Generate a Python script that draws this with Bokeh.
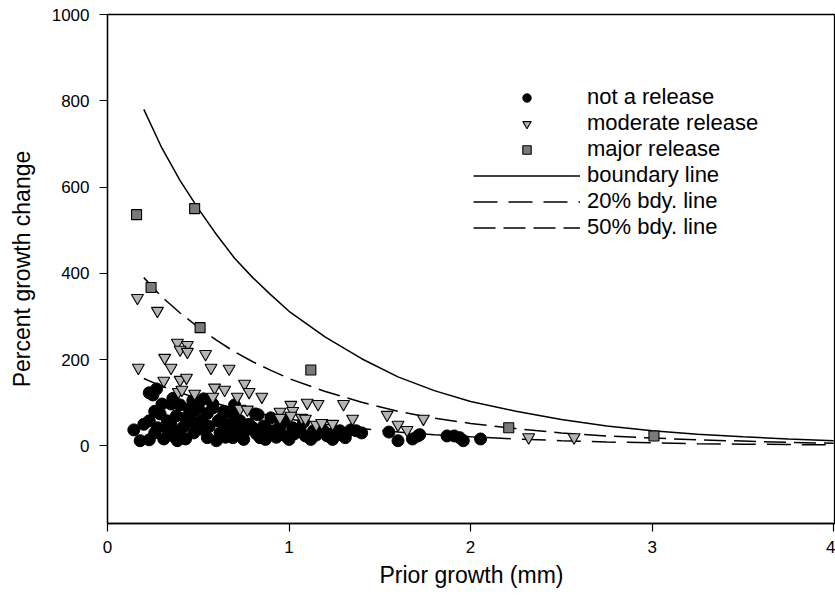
from bokeh.plotting import figure
from bokeh.models import Legend, LegendItem, FixedTicker, Range1d
from bokeh.embed import file_html
from bokeh.resources import INLINE

# ---- data ----
not_x = [0.145, 0.18, 0.23, 0.23, 0.23, 0.27, 0.25, 0.30, 0.35, 0.29, 0.33, 0.275, 0.33, 0.36, 0.40,
         0.46, 0.475, 0.43, 0.50, 0.53, 0.58, 0.43, 0.475, 0.51, 0.55, 0.61, 0.62, 0.31, 0.385,
         0.63, 0.66, 0.69, 0.73, 0.69, 0.76, 0.815, 0.80, 0.84, 0.90, 0.915, 0.96, 0.98, 1.02, 1.06,
         1.09, 1.135, 1.17, 1.21, 1.245, 1.28, 1.31, 0.86, 0.73,
         1.30, 1.34, 1.37, 1.40, 1.55, 1.60, 1.68, 1.71, 1.72, 1.87, 1.91, 1.94, 1.96, 2.055,
         0.45, 0.50, 0.58, 0.83, 0.97,
         0.20, 0.26, 0.35, 0.38, 0.42, 0.47, 0.52, 0.56, 0.60, 0.65, 0.68, 0.71, 0.75, 0.78, 0.82,
         0.87, 0.88, 0.93, 0.95, 1.00, 1.03, 1.08, 1.12, 1.15, 1.19, 1.24, 0.55, 0.64, 0.70, 0.40,
         0.26, 0.47, 0.36]
not_y = [37, 12, 14, 58, 123, 132, 118, 97, 97, 74, 58, 42, 39, 23, 35,
         88, 81, 65, 97, 109, 97, 16, 30, 39, 19, 58, 30, 16, 12,
         65, 42, 74, 58, 19, 35, 74, 42, 19, 65, 35, 58, 23, 42, 39,
         23, 35, 46, 23, 30, 35, 19, 46, 30,
         23, 37, 35, 30, 32, 12, 16, 23, 26, 23, 23, 19, 12, 16,
         86, 88, 88, 72, 58,
         50, 30, 50, 70, 45, 55, 60, 45, 12, 20, 50, 40, 15, 50, 28,
         15, 38, 20, 45, 15, 28, 55, 15, 25, 35, 15, 75, 80, 95, 95,
         80, 105, 110]

mod_x = [0.165, 0.275, 0.385, 0.44, 0.40, 0.44, 0.54, 0.315, 0.17, 0.35, 0.57, 0.67, 0.31, 0.40,
         0.435, 0.755, 0.39, 0.41, 0.48, 0.59, 0.645, 0.78, 0.715, 0.85, 0.58, 0.73, 0.77, 0.95,
         1.01, 1.02, 1.01, 0.95, 1.07, 1.10, 1.16, 1.30, 1.09, 1.15, 1.18, 1.24, 1.54, 1.74, 1.35,
         1.60, 1.65, 2.32, 2.57]
mod_y = [343, 313, 239, 234, 223, 218, 213, 204, 181, 181, 181, 179, 151, 153,
         158, 144, 125, 130, 121, 135, 130, 125, 114, 114, 114, 86, 84, 79,
         95, 81, 70, 65, 65, 100, 97, 97, 63, 49, 53, 51, 72, 63, 63,
         49, 37, 20, 20]

maj_x = [0.16, 0.48, 0.24, 0.51, 1.12, 2.21, 3.01]
maj_y = [536, 550, 367, 274, 176, 42, 23]

line_x = [0.2, 0.3, 0.4, 0.5, 0.6, 0.7, 0.8, 0.9, 1.0, 1.2, 1.4, 1.6, 1.8, 2.0, 2.25, 2.5,
          2.75, 3.0, 3.25, 3.5, 3.75, 4.0]
boundary_y = [780, 690, 615, 550, 490, 435, 390, 350, 312, 252, 202, 160, 128, 103, 80, 61,
              46, 35, 27, 21, 16, 12]
bdy50_y = [390, 345, 308, 275, 245, 218, 195, 175, 156, 126, 101, 80, 64, 52, 40, 30,
           23, 18, 14, 11, 8, 6]
bdy20_y = [156, 138, 123, 110, 98, 87, 78, 70, 62, 50, 40, 32, 26, 21, 16, 12,
           9, 7, 5, 4, 3, 2.4]

x_ticks = [0, 1, 2, 3, 4]
y_ticks = [0, 200, 400, 600, 800, 1000]

FONT = "Liberation Sans"

p = figure(width=835, height=598, output_backend="svg", toolbar_location=None,
           x_range=Range1d(0, 4.01), y_range=Range1d(-180, 1000),
           min_border_left=107, min_border_right=0, min_border_top=14, min_border_bottom=75)
p.grid.visible = False
p.background_fill_color = "white"
p.border_fill_color = "white"
p.outline_line_color = "black"
p.outline_line_width = 1.3

for ax in (p.xaxis[0], p.yaxis[0]):
    ax.axis_line_width = 1.3
    ax.axis_line_color = "black"
    ax.major_tick_line_color = "black"
    ax.major_tick_line_width = 1.2
    ax.major_tick_out = 8
    ax.major_tick_in = 0
    ax.minor_tick_line_color = None
    ax.major_label_text_font = FONT
    ax.major_label_text_font_size = "17px"
    ax.major_label_text_color = "black"
    ax.axis_label_text_font = FONT
    ax.axis_label_text_font_size = "23px"
    ax.axis_label_text_font_style = "normal"
    ax.axis_label_text_color = "black"

p.xaxis.ticker = FixedTicker(ticks=x_ticks)
p.yaxis.ticker = FixedTicker(ticks=y_ticks)
p.xaxis.axis_label = "Prior growth (mm)"
p.yaxis.axis_label = "Percent growth change"
p.xaxis.major_label_standoff = 9
p.yaxis.major_label_standoff = 10
p.xaxis.axis_label_standoff = 6
p.yaxis.axis_label_standoff = 14

r_b = p.line(line_x, boundary_y, line_color="black", line_width=1.5)
r_20 = p.line(line_x, bdy20_y, line_color="black", line_width=1.5, line_dash="24 11")
r_50 = p.line(line_x, bdy50_y, line_color="black", line_width=1.5, line_dash="22 8")

r_not = p.scatter(not_x, not_y, marker="circle", size=12, fill_color="black",
                  line_color="black")
r_mod = p.scatter(mod_x, mod_y, marker="inverted_triangle", size=12, fill_color="#b4b4b4",
                  line_color="black", line_width=1.1)
r_maj = p.scatter(maj_x, maj_y, marker="square", size=10, fill_color="#7a7a7a",
                  line_color="black", line_width=1.1)

legend = Legend(items=[
    LegendItem(label="not a release", renderers=[r_not]),
    LegendItem(label="moderate release", renderers=[r_mod]),
    LegendItem(label="major release", renderers=[r_maj]),
    LegendItem(label="boundary line", renderers=[r_b]),
    LegendItem(label="20% bdy. line", renderers=[r_20]),
    LegendItem(label="50% bdy. line", renderers=[r_50]),
], location=(366, 283))
legend.glyph_width = 107
legend.glyph_height = 21
legend.label_height = 21
legend.spacing = 0
legend.padding = 0
legend.margin = 0
legend.label_standoff = 7
legend.border_line_color = None
legend.background_fill_alpha = 0
legend.label_text_font = FONT
legend.label_text_font_size = "22px"
legend.label_text_line_height = 1.0
legend.label_text_color = "black"
p.add_layout(legend)

open("out.html", "w").write(file_html(p, INLINE))
